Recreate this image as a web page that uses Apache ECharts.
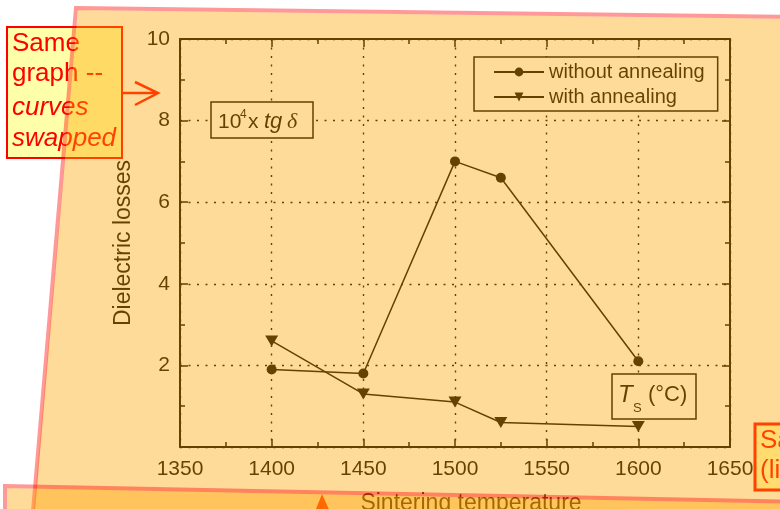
<!DOCTYPE html>
<html><head><meta charset="utf-8">
<script src="https://cdn.jsdelivr.net/npm/echarts@6/dist/echarts.min.js"></script>
<style>html,body{margin:0;padding:0;background:#fff;}#c{width:780px;height:509px;}</style>
</head><body><div id="c"></div>
<script>
// ---- data ----
const temperatures = [1400, 1450, 1500, 1525, 1600];
const withoutAnnealing = [1.9, 1.8, 7.0, 6.6, 2.1];
const withAnnealing = [2.6, 1.3, 1.1, 0.6, 0.5];
const seriesNames = ['without annealing', 'with annealing'];
const xRange = [1350, 1650];
const xStep = 50;
const yRange = [0, 10];
const yStep = 2;
const xAxisTitle = 'Sintering temperature';
const yAxisTitle = 'Dielectric losses';
const noteLeft = ['Same', 'graph --', 'curves', 'swapped'];
const noteRight = ['Same graph', '(linear scale)'];

const FF = "'Liberation Sans', Arial, sans-serif";
const K = '#000';
const chart = echarts.init(document.getElementById('c'), null, {renderer: 'canvas'});

function axisCommon(pos, showLabel) {
  return {
    position: pos,
    axisLine: {show: true, onZero: false, lineStyle: {color: K, width: 2}},
    axisTick: {show: true, inside: true, length: 8, lineStyle: {color: K, width: 1.5}},
    minorTick: {show: true, splitNumber: 2, length: 5, lineStyle: {color: K, width: 1.5}},
    axisLabel: {show: showLabel, fontSize: 21, color: K, fontFamily: FF, formatter: (v) => String(v)},
    splitLine: {show: showLabel, lineStyle: {color: K, width: 1.4, type: [2, 6.5]}}
  };
}
function txt(x, y, s, size, opts) {
  return Object.assign({type: 'text', x: x, y: y, z: 6,
    style: Object.assign({text: s, fontSize: size, fontFamily: FF, fill: K,
      align: 'left', verticalAlign: 'middle'}, opts || {})});
}
const pairs = (ys) => temperatures.map((t, i) => [t, ys[i]]);

const graphics = [
  // left note box
  {type: 'rect', z: 1, shape: {x: 7, y: 27, width: 115, height: 131},
   style: {fill: '#FFFFAA', stroke: '#FF0000', lineWidth: 2}},
  Object.assign(txt(12, 53 - 9, noteLeft[0], 26, {fill: '#FF0000'}), {z: 2}),
  Object.assign(txt(12, 83 - 9, noteLeft[1], 26, {fill: '#FF0000'}), {z: 2}),
  Object.assign(txt(12, 117 - 9, noteLeft[2], 26, {fill: '#FF0000', fontStyle: 'italic'}), {z: 2}),
  Object.assign(txt(12, 148 - 9, noteLeft[3], 26, {fill: '#FF0000', fontStyle: 'italic'}), {z: 2}),
  {type: 'polyline', z: 2, shape: {points: [[122, 93], [157, 93]]}, style: {stroke: '#FF0000', lineWidth: 2.5}},
  {type: 'polyline', z: 2, shape: {points: [[135, 82], [158, 93], [135, 105]]}, style: {stroke: '#FF0000', lineWidth: 2.5, fill: null}},
  // right note box
  {type: 'rect', z: 1, shape: {x: 755, y: 424, width: 80, height: 66},
   style: {fill: '#FFFFBB', stroke: '#FF0000', lineWidth: 3}},
  Object.assign(txt(760, 450 - 9, noteRight[0], 26, {fill: '#FF0000'}), {z: 2}),
  Object.assign(txt(760, 480 - 9, noteRight[1], 26, {fill: '#FF0000'}), {z: 2}),
  // arrow head at bottom
  {type: 'polygon', z: 2, shape: {points: [[322, 494], [314, 514], [331, 514]]}, style: {fill: '#FF0000'}},
  // 10^4 x tg delta box
  {type: 'rect', z: 5, shape: {x: 211, y: 102, width: 102, height: 36}, style: {fill: '#fff', stroke: K, lineWidth: 1.5}},
  txt(218, 129 - 7, '10', 21),
  txt(240, 119 - 4, '4', 12),
  txt(248, 129 - 7, 'x', 21),
  txt(264, 129 - 7, 'tg', 22, {fontStyle: 'italic'}),
  txt(287, 129 - 7, 'δ', 22, {fontStyle: 'italic', fontFamily: "'Liberation Serif', serif"}),
  // T_S box
  {type: 'rect', z: 5, shape: {x: 612, y: 374, width: 84, height: 45}, style: {fill: '#fff', stroke: K, lineWidth: 1.5}},
  txt(618, 403 - 8, 'T', 24, {fontStyle: 'italic'}),
  txt(633, 413 - 4.5, 'S', 13),
  txt(648, 403 - 8, '(°C)', 22),
  // translucent overlays (top)
  {type: 'polygon', z: 100, shape: {points: [[78, 10], [800, 19], [800, 620], [24, 620]]},
   style: {fill: 'rgba(255,165,0,0.4)'}},
  {type: 'polygon', z: 101, shape: {points: [[76, 8], [800, 17], [800, 640], [22, 640]]},
   style: {fill: null, stroke: 'rgba(255,0,0,0.4)', lineWidth: 4}},
  {type: 'polygon', z: 102, shape: {points: [[7, 488], [800, 504], [800, 640], [7, 640]]},
   style: {fill: 'rgba(255,165,0,0.4)'}},
  {type: 'polygon', z: 103, shape: {points: [[5, 486], [800, 502], [800, 660], [5, 660]]},
   style: {fill: null, stroke: 'rgba(255,0,0,0.4)', lineWidth: 4}}
];

const option = {
  animation: false,
  backgroundColor: '#fff',
  textStyle: {fontFamily: FF},
  grid: {left: 180, right: 50, top: 39, bottom: 62, containLabel: false, outerBoundsMode: 'none'},
  legend: {
    data: seriesNames, orient: 'vertical', left: 474, top: 57,
    padding: [5, 13, 4, 19], itemWidth: 50, itemHeight: 11, itemGap: 5,
    backgroundColor: '#fff', borderColor: K, borderWidth: 1.5,
    textStyle: {fontSize: 20, color: K, fontFamily: FF, lineHeight: 20}
  },
  xAxis: [
    Object.assign(axisCommon('bottom', true), {
      type: 'value', min: xRange[0], max: xRange[1], interval: xStep,
      name: xAxisTitle, nameLocation: 'middle', nameGap: 45,
      nameTextStyle: {fontSize: 23, color: K, fontFamily: FF, padding: [0, 0, 0, 32]}
    }),
    Object.assign(axisCommon('top', false), {type: 'value', min: xRange[0], max: xRange[1], interval: xStep})
  ],
  yAxis: [
    Object.assign(axisCommon('left', true), {
      type: 'value', min: yRange[0], max: yRange[1], interval: yStep,
      name: yAxisTitle, nameLocation: 'middle', nameGap: 45,
      nameTextStyle: {fontSize: 23, color: K, fontFamily: FF}
    }),
    Object.assign(axisCommon('right', false), {type: 'value', min: yRange[0], max: yRange[1], interval: yStep})
  ],
  series: [
    {name: seriesNames[0], type: 'line', xAxisIndex: 0, yAxisIndex: 0, data: pairs(withoutAnnealing),
     symbol: 'circle', symbolSize: 10, lineStyle: {color: K, width: 1.5}, itemStyle: {color: K}},
    {name: seriesNames[1], type: 'line', xAxisIndex: 0, yAxisIndex: 0, data: pairs(withAnnealing),
     symbol: 'triangle', symbolRotate: 180, symbolSize: [13, 11], lineStyle: {color: K, width: 1.5}, itemStyle: {color: K}}
  ],
  graphic: {elements: graphics}
};
option.xAxis[0].axisLabel.margin = 12;
option.yAxis[0].axisLabel.margin = 10;
option.yAxis[0].axisLabel.showMinLabel = false;
chart.setOption(option);
</script></body></html>
